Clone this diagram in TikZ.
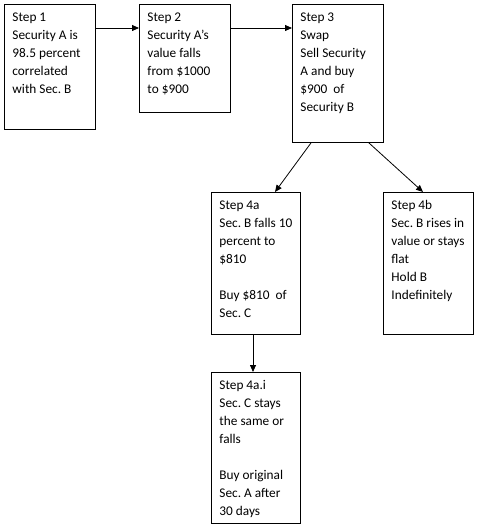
\documentclass[tikz,border=0pt]{standalone}
\usepackage{fontspec}
\setmainfont{Carlito}
\usetikzlibrary{arrows.meta}
\frenchspacing
\newcommand{\steptext}[3]{\parbox[t][#2][t]{#1}{\raggedright\leftskip=8pt\relax #3}}
\begin{document}
\begin{tikzpicture}[x=1pt, y=-1pt,
      stepbox/.style={draw, line width=0.9pt, anchor=north west, inner xsep=0pt, inner ysep=8pt,
        font=\fontsize{13.3}{18}\selectfont},
      flow/.style={-{Triangle[length=7pt,width=6pt]}, line width=0.8pt}
    ]
    \useasboundingbox (0,0) rectangle (480,527);

    \node[stepbox] (S1) at (4,4) {\steptext{91pt}{109pt}{Step 1\\ Security A is\\ 98.5 percent\\ correlated\\ with Sec. B}};
    \node[stepbox] (S2) at (139,4) {\steptext{91pt}{92pt}{Step 2\\ Security A’s\\ value falls\\ from \$1000\\ to \$900}};
    \node[stepbox] (S3) at (292,4) {\steptext{91pt}{122pt}{Step 3\\ Swap\\ Sell Security\\ A and buy\\ \$900 \ of\\ Security B}};
    \node[stepbox] (S4a) at (211,192) {\steptext{89pt}{126pt}{Step 4a\\ Sec. B falls 10\\ percent to\\ \$810\\[18pt] Buy \$810 \ of\\ Sec. C}};
    \node[stepbox] (S4b) at (383,192) {\steptext{90pt}{126pt}{Step 4b\\ Sec. B rises in\\ value or stays\\ flat\\ Hold B\\ Indefinitely}};
    \node[stepbox] (S4ai) at (211,372) {\steptext{89pt}{135pt}{Step 4a.i\\ Sec. C stays\\ the same or\\ falls\\[18pt] Buy original\\ Sec. A after\\ 30 days}};

    \draw[flow] ([yshift=-24pt]S1.north east) -- ([yshift=-24pt]S2.north west);
    \draw[flow] ([yshift=-24pt]S2.north east) -- ([yshift=-24pt]S3.north west);
    \draw[flow] ([xshift=19pt]S3.south west) -- ([xshift=64pt]S4a.north west);
    \draw[flow] ([xshift=-15pt]S3.south east) -- ([xshift=40pt]S4b.north west);
    \draw[flow] ([xshift=42pt]S4a.south west) -- ([xshift=42pt]S4ai.north west);

    \end{tikzpicture}
\end{document}
